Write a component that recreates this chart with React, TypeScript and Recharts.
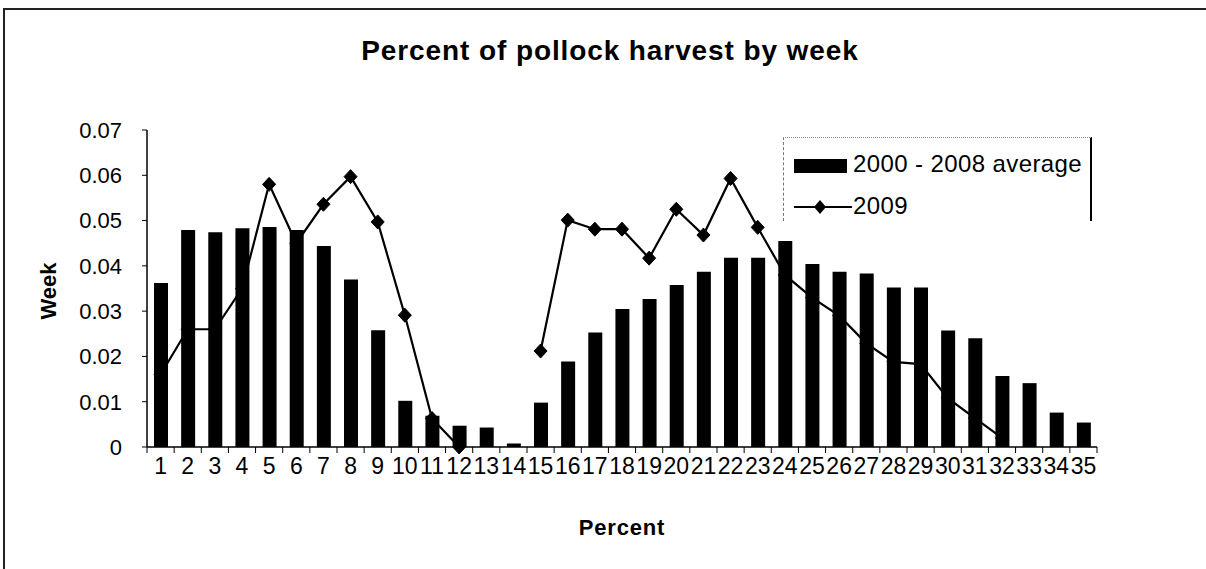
import React from "react";
import {
  ComposedChart,
  Bar,
  Line,
  XAxis,
  YAxis,
  Legend,
} from "recharts";

const weeks = [
  "1", "2", "3", "4", "5", "6", "7", "8", "9", "10",
  "11", "12", "13", "14", "15", "16", "17", "18", "19", "20",
  "21", "22", "23", "24", "25", "26", "27", "28", "29", "30",
  "31", "32", "33", "34", "35",
];

const avg2000to2008 = [
  0.0362, 0.0479, 0.0474, 0.0483, 0.0486, 0.0479, 0.0444, 0.037, 0.0258, 0.0102,
  0.0069, 0.0047, 0.0043, 0.0008, 0.0098, 0.0189, 0.0253, 0.0305, 0.0327, 0.0358,
  0.0387, 0.0418, 0.0418, 0.0455, 0.0404, 0.0387, 0.0383, 0.0352, 0.0352, 0.0257,
  0.024, 0.0157, 0.0141, 0.0076, 0.0054,
];

const y2009: (number | null)[] = [
  0.016, 0.026, 0.026, 0.035, 0.058, 0.045, 0.0536, 0.0597, 0.0497, 0.0291,
  0.0063, 0.0, null, null, 0.0212, 0.0501, 0.0481, 0.0481, 0.0417, 0.0525,
  0.0468, 0.0593, 0.0485, 0.038, 0.033, 0.029, 0.0229, 0.0188, 0.0183, 0.0108,
  0.0064, 0.002, null, null, null,
];

const yTicks = [0, 0.01, 0.02, 0.03, 0.04, 0.05, 0.06, 0.07];

const seriesNames = ["2000 - 2008 average", "2009"];

const data = weeks.map((w, i) => ({
  week: w,
  avg: avg2000to2008[i],
  y2009: y2009[i],
}));

const FONT = '"Liberation Sans", Arial, Helvetica, sans-serif';
const W = 1206;
const H = 569;
const M = { top: 130, right: 109, bottom: 0, left: 0 };
const Y_AXIS_W = 147;
const X_AXIS_H = 122;
const PLOT_W = W - M.left - M.right - Y_AXIS_W;
const BAND = PLOT_W / weeks.length;
const TICK_MARGIN = 11;

const XTick = (props: any) => {
  const { x, y, payload, index } = props;
  const axisY = y - TICK_MARGIN;
  const left = x - BAND / 2;
  return (
    <g>
      <line x1={left} x2={left} y1={axisY} y2={axisY + 6} stroke="#000" strokeWidth={1} />
      {index === weeks.length - 1 && (
        <line x1={x + BAND / 2} x2={x + BAND / 2} y1={axisY} y2={axisY + 6} stroke="#000" strokeWidth={1} />
      )}
      <text
        x={x}
        y={y}
        dy="0.71em"
        textAnchor="middle"
        fill="#000"
        fontSize={23}
        fontFamily={FONT}
      >
        {payload.value}
      </text>
    </g>
  );
};

const Diamond = (props: any) => {
  const { cx, cy, value } = props;
  if (value === null || value === undefined || cx == null || cy == null) return null;
  return (
    <polygon
      points={`${cx},${cy - 7} ${cx + 6.5},${cy} ${cx},${cy + 7} ${cx - 6.5},${cy}`}
      fill="#000"
      stroke="#000"
    />
  );
};

const LegendBox = () => (
  <div
    style={{
      width: 309,
      height: 84,
      boxSizing: "border-box",
      background: "#fff",
      borderLeft: "1px dashed #777",
      borderTop: "1px dotted #888",
      borderRight: "2px solid #000",
      position: "relative",
      fontFamily: FONT,
      fontSize: 24,
      color: "#000",
    }}
  >
    <div style={{ position: "absolute", left: 10, top: 21, width: 53, height: 14, background: "#000" }} />
    <div style={{ position: "absolute", left: 69, top: 12, lineHeight: "28px", whiteSpace: "nowrap", letterSpacing: 0.4 }}>
      {seriesNames[0]}
    </div>
    <svg style={{ position: "absolute", left: 8, top: 60 }} width={62} height={18}>
      <line x1={2} x2={60} y1={9} y2={9} stroke="#000" strokeWidth={2} />
      <polygon points="28,2 34,9 28,16 22,9" fill="#000" />
    </svg>
    <div style={{ position: "absolute", left: 69, top: 54, lineHeight: "28px", whiteSpace: "nowrap", letterSpacing: 0.4 }}>
      {seriesNames[1]}
    </div>
  </div>
);

export default function App() {
  return (
    <div
      style={{
        position: "absolute",
        left: 0,
        top: 0,
        width: W,
        height: H,
        background: "#fff",
        overflow: "hidden",
        fontFamily: FONT,
      }}
    >
      <div
        style={{
          position: "absolute",
          left: 3,
          top: 8,
          width: W,
          height: H,
          borderTop: "2px solid #222",
          borderLeft: "2px solid #222",
        }}
      />
      <div
        style={{
          position: "absolute",
          left: 610,
          top: 35,
          transform: "translateX(-50%)",
          fontSize: 28,
          fontWeight: "bold",
          letterSpacing: 0.9,
          whiteSpace: "nowrap",
          lineHeight: "32px",
          color: "#000",
        }}
      >
        Percent of pollock harvest by week
      </div>
      <div
        style={{
          position: "absolute",
          left: 622,
          top: 513,
          transform: "translateX(-50%)",
          fontSize: 22,
          fontWeight: "bold",
          letterSpacing: 0.8,
          whiteSpace: "nowrap",
          lineHeight: "30px",
          color: "#000",
        }}
      >
        Percent
      </div>
      <div
        style={{
          position: "absolute",
          left: 49,
          top: 291,
          transform: "translate(-50%, -50%) rotate(-90deg)",
          fontSize: 22,
          fontWeight: "bold",
          whiteSpace: "nowrap",
          lineHeight: "26px",
          color: "#000",
        }}
      >
        Week
      </div>
      <div style={{ position: "absolute", left: 0, top: 0 }}>
        <ComposedChart width={W} height={H} data={data} margin={M}>
          <XAxis
            dataKey="week"
            height={X_AXIS_H}
            interval={0}
            tickSize={0}
            tickMargin={TICK_MARGIN}
            tickLine={false}
            axisLine={{ stroke: "#000", strokeWidth: 1.5 }}
            tick={<XTick />}
          />
          <XAxis
            xAxisId="top"
            dataKey="week"
            orientation="top"
            height={0}
            tick={false}
            tickLine={false}
            axisLine={{ stroke: "#888", strokeDasharray: "2 3" }}
          />
          <YAxis
            width={Y_AXIS_W}
            domain={[0, 0.07]}
            ticks={yTicks}
            interval={0}
            tickSize={5}
            tickMargin={20}
            tickLine={{ stroke: "#000" }}
            axisLine={{ stroke: "#000", strokeWidth: 1.5 }}
            tick={{ fill: "#000", fontSize: 22, fontFamily: FONT }}
            tickFormatter={(v: number) => (v === 0 ? "0" : v.toFixed(2))}
          />
          <YAxis
            yAxisId="right"
            orientation="right"
            width={0}
            domain={[0, 0.07]}
            tick={false}
            tickLine={false}
            axisLine={{ stroke: "#888", strokeDasharray: "3 3" }}
          />
          <Legend
            layout="vertical"
            align="center"
            verticalAlign="middle"
            wrapperStyle={{ left: 783, top: 137, width: 309, height: 84 }}
            content={<LegendBox />}
          />
          <Bar
            dataKey="avg"
            name={seriesNames[0]}
            fill="#000"
            barSize={14}
            isAnimationActive={false}
          />
          <Line
            dataKey="y2009"
            name={seriesNames[1]}
            type="linear"
            stroke="#000"
            strokeWidth={2.2}
            connectNulls={false}
            dot={<Diamond />}
            activeDot={false}
            isAnimationActive={false}
          />
        </ComposedChart>
      </div>
    </div>
  );
}
